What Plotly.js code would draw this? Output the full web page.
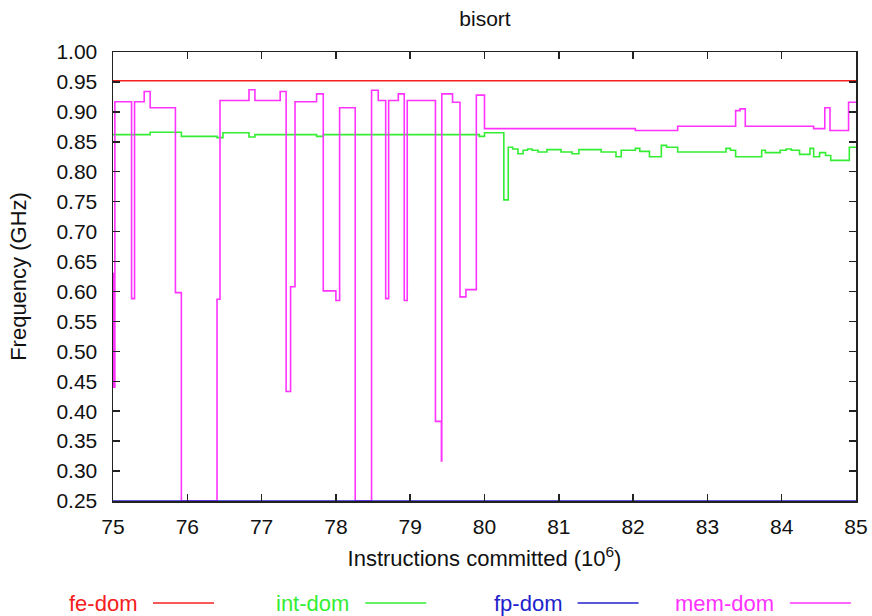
<!DOCTYPE html>
<html>
<head>
<meta charset="utf-8">
<script src="https://cdn.plot.ly/plotly-3.0.1.min.js"></script>
<style>
  html, body { margin: 0; padding: 0; background: #fff; }
  #chart { width: 872px; height: 616px; }
</style>
</head>
<body>
<div id="chart"></div>
<script>
// Per-domain clock frequency (GHz) against instructions committed (millions).
// Each series is a step function: value holds from its x until the next x.
const seriesNames = ['fe-dom', 'int-dom', 'fp-dom', 'mem-dom'];
const seriesColors = ['#f42020', '#33ee33', '#2222cc', '#ff33ff'];

const feX = [75, 85];
const feY = [0.952, 0.952];

const fpX = [75, 85];
const fpY = [0.25, 0.25];

const intX = [75.00, 75.50, 75.92, 76.40, 76.48, 76.83, 76.91, 77.74, 77.83, 79.93,
              80.00, 80.26, 80.32, 80.38, 80.45, 80.52, 80.58, 80.64, 80.72, 80.84,
              81.03, 81.18, 81.27, 81.57, 81.77, 81.84, 82.03, 82.09, 82.22, 82.38,
              82.45, 82.60, 83.25, 83.31, 83.38, 83.73, 83.78, 83.98, 84.06, 84.13,
              84.24, 84.38, 84.43, 84.51, 84.59, 84.66, 84.91, 85.00];
const intY = [0.862, 0.866, 0.859, 0.857, 0.865, 0.858, 0.862, 0.859, 0.862, 0.859,
              0.865, 0.753, 0.841, 0.838, 0.830, 0.836, 0.838, 0.836, 0.833, 0.837,
              0.833, 0.830, 0.837, 0.833, 0.825, 0.836, 0.839, 0.834, 0.825, 0.844,
              0.841, 0.833, 0.839, 0.836, 0.825, 0.836, 0.832, 0.836, 0.838, 0.836,
              0.829, 0.839, 0.825, 0.832, 0.827, 0.819, 0.841, 0.841];

const memX = [75.00, 75.01, 75.025, 75.25, 75.29, 75.42, 75.50, 75.84, 75.92, 76.40,
              76.44, 76.83, 76.91, 77.25, 77.33, 77.39, 77.45, 77.74, 77.83, 78.00,
              78.05, 78.26, 78.48, 78.57, 78.67, 78.71, 78.84, 78.92, 78.96, 79.34,
              79.42, 79.425, 79.57, 79.67, 79.75, 79.89, 80.00, 82.03, 82.60, 83.38,
              83.44, 83.51, 84.43, 84.58, 84.65, 84.90, 85.00];
const memY = [0.630, 0.440, 0.917, 0.588, 0.917, 0.934, 0.907, 0.598, 0.250, 0.587,
              0.919, 0.937, 0.919, 0.934, 0.433, 0.608, 0.917, 0.930, 0.601, 0.585,
              0.907, 0.250, 0.936, 0.919, 0.588, 0.919, 0.930, 0.585, 0.919, 0.383,
              0.317, 0.930, 0.916, 0.591, 0.603, 0.928, 0.872, 0.869, 0.876, 0.902,
              0.905, 0.876, 0.872, 0.907, 0.869, 0.916, 0.916];

const xTicks = [75, 76, 77, 78, 79, 80, 81, 82, 83, 84, 85];

const FONT = 'Liberation Sans, Arial, Helvetica, sans-serif';
const W = 872, H = 616;
const M = { l: 113, r: 16, t: 52, b: 115 };
const plotW = W - M.l - M.r, plotH = H - M.t - M.b;
const toPaperX = px => (px - M.l) / plotW;
const toPaperY = py => (H - M.b - py) / plotH;

const stepSeries = [[feX, feY], [intX, intY], [fpX, fpY], [memX, memY]];
const traces = stepSeries.map(([xs, ys], i) => ({
  x: xs, y: ys, name: seriesNames[i], type: 'scatter', mode: 'lines',
  line: { shape: 'hv', color: seriesColors[i], width: 1.6 },
  showlegend: false, hoverinfo: 'skip', cliponaxis: false
}));
// blue and magenta drawn last so they sit on the bottom frame
const order = [0, 1, 3, 2];
const data = order.map(i => traces[i]);

// bottom key: label first, then a short line sample
const annotations = [];
const shapes = [];
seriesNames.forEach((name, i) => {
  const textRight = 139 + i * 212.3;
  const lineStart = textRight + 14;
  const lineEnd = lineStart + 61;
  const yPx = 603;
  annotations.push({
    xref: 'paper', yref: 'paper', x: toPaperX(textRight), y: toPaperY(yPx),
    xanchor: 'right', yanchor: 'middle', showarrow: false, text: name,
    font: { family: FONT, size: 22, color: seriesColors[i] }
  });
  shapes.push({
    type: 'line', xref: 'paper', yref: 'paper',
    x0: toPaperX(lineStart), x1: toPaperX(lineEnd),
    y0: toPaperY(yPx), y1: toPaperY(yPx),
    line: { color: seriesColors[i], width: 1.6 }
  });
});

const axisCommon = {
  showline: true, mirror: 'ticks', linecolor: '#222', linewidth: 1.5,
  ticks: 'inside', ticklen: 7, tickwidth: 1.5, tickcolor: '#222',
  showgrid: false, zeroline: false, fixedrange: true,
  tickfont: { family: FONT, size: 21, color: '#111' }
};

const layout = {
  width: W, height: H,
  margin: M,
  paper_bgcolor: '#fff', plot_bgcolor: '#fff',
  font: { family: FONT, color: '#111' },
  title: {
    text: 'bisort', x: toPaperX(485), xref: 'paper', xanchor: 'center',
    y: 1 - 19 / H, yref: 'container', yanchor: 'middle',
    font: { family: FONT, size: 21, color: '#111' }
  },
  xaxis: Object.assign({}, axisCommon, {
    range: [75, 85], tickvals: xTicks, ticktext: xTicks.map(String),
    ticklabelstandoff: 6,
    title: { text: 'Instructions committed (10<sup>6</sup>)', standoff: 14,
             font: { family: FONT, size: 22, color: '#111' } }
  }),
  yaxis: Object.assign({}, axisCommon, {
    range: [0.25, 1.0], tick0: 0.25, dtick: 0.05, tickformat: '.2f',
    ticklabelstandoff: 10,
    title: { text: 'Frequency (GHz)', standoff: 23,
             font: { family: FONT, size: 22, color: '#111' } }
  }),
  annotations: annotations,
  shapes: shapes,
  showlegend: false
};

Plotly.newPlot('chart', data, layout, { displayModeBar: false, staticPlot: true });
</script>
</body>
</html>
